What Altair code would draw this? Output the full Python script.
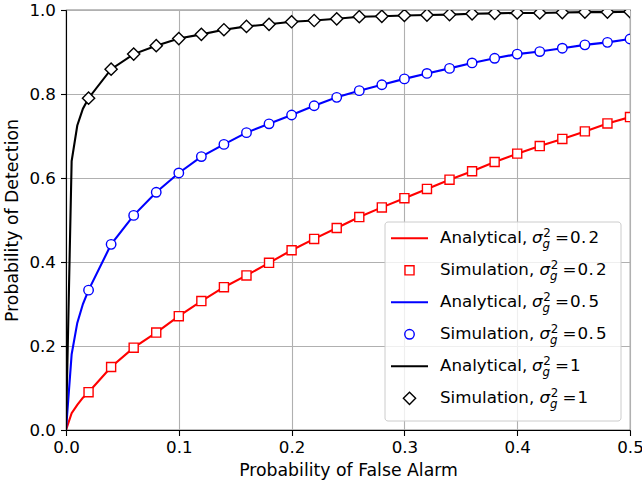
import altair as alt
import pandas as pd

# ---------------- data ----------------
fa_sim = [0.02, 0.04, 0.06, 0.08, 0.10, 0.12, 0.14, 0.16, 0.18, 0.20, 0.22, 0.24, 0.26,
          0.28, 0.30, 0.32, 0.34, 0.36, 0.38, 0.40, 0.42, 0.44, 0.46, 0.48, 0.50]
pd_02 = [0.090, 0.150, 0.196, 0.232, 0.271, 0.307, 0.340, 0.368, 0.398, 0.428, 0.455, 0.481, 0.507,
         0.530, 0.552, 0.574, 0.596, 0.616, 0.638, 0.658, 0.676, 0.693, 0.711, 0.730, 0.745]
pd_05 = [0.333, 0.442, 0.511, 0.566, 0.612, 0.651, 0.680, 0.708, 0.729, 0.750, 0.772, 0.792, 0.808,
         0.822, 0.836, 0.849, 0.861, 0.874, 0.885, 0.895, 0.901, 0.909, 0.917, 0.923, 0.931]
pd_1 = [0.790, 0.859, 0.895, 0.915, 0.932, 0.942, 0.953, 0.961, 0.966, 0.972, 0.975, 0.979, 0.984,
        0.985, 0.987, 0.988, 0.989, 0.991, 0.992, 0.993, 0.993, 0.994, 0.995, 0.995, 0.996]

# analytical curves: extra points near the origin, then the same grid
fa_head = [0.0, 0.005, 0.01, 0.015]
head_02 = [0.0, 0.040, 0.060, 0.077]
head_05 = [0.0, 0.180, 0.255, 0.300]
head_1 = [0.0, 0.640, 0.725, 0.765]

variances = ["0.2", "0.5", "1"]
colors = ["#ff0000", "#0000ff", "#000000"]
shapes = ["square", "circle", "diamond"]
x_ticks = [0.0, 0.1, 0.2, 0.3, 0.4, 0.5]
y_ticks = [0.0, 0.2, 0.4, 0.6, 0.8, 1.0]

FONT = "DejaVu Sans"
FS = 16.7
FS_TITLE = 17.3
FS_SMALL = 11.8

sim_series = [pd_02, pd_05, pd_1]
head_series = [head_02, head_05, head_1]
marker_size = {"square": 82, "circle": 90, "diamond": 150}

xs = alt.Scale(domain=[0, 0.5], nice=False, zero=False)
ys = alt.Scale(domain=[0, 1], nice=False, zero=False)
xenc = alt.X("fa:Q", scale=xs, title="Probability of False Alarm",
             axis=alt.Axis(values=x_ticks, format=".1f"))
yenc = alt.Y("pd:Q", scale=ys, title="Probability of Detection",
             axis=alt.Axis(values=y_ticks, format=".1f"))

layers = []
for v, col, shp, sim, head in zip(variances, colors, shapes, sim_series, head_series):
    ana_df = pd.DataFrame({"fa": fa_head + fa_sim, "pd": head + sim})
    sim_df = pd.DataFrame({"fa": fa_sim, "pd": sim})
    layers.append(
        alt.Chart(ana_df).mark_line(color=col, strokeWidth=2.1, clip=True)
        .encode(x=xenc, y=yenc, order="fa:Q")
    )
    layers.append(
        alt.Chart(sim_df).mark_point(shape=shp, size=marker_size[shp], filled=True, fill="white",
                                     stroke=col, strokeWidth=1.4, opacity=1, clip=True)
        .encode(x=xenc, y=yenc)
    )

# ---------------- manual legend (positions relative to the plot area) ----------------
OX, OY = 66, 10
one = alt.Data(values=[{"k": 1}])
leg = []
leg.append(
    alt.Chart(one).mark_rect(fill="white", fillOpacity=0.8, stroke="#cccccc",
                             strokeWidth=1, cornerRadius=3)
    .encode(x=alt.value(385 - OX), x2=alt.value(621 - OX),
            y=alt.value(222 - OY), y2=alt.value(421 - OY))
)


def txt(text, x, y, size=FS, style="normal"):
    return (alt.Chart(one).mark_text(text=text, font=FONT, fontSize=size, fontStyle=style,
                                     align="left", baseline="alphabetic", color="black")
            .encode(x=alt.value(x - OX), y=alt.value(y - OY)))


char_offsets = [38.0, 49.0, 56.6]  # slightly wider math-mode spacing of the value

row_y0 = 238.3
row_dy = 32.0
for i, (v, col, shp) in enumerate(zip(variances, colors, shapes)):
    for j, kind in enumerate(["Analytical,", "Simulation,"]):
        yc = row_y0 + row_dy * (2 * i + j)
        if j == 0:
            leg.append(
                alt.Chart(one).mark_rule(color=col, strokeWidth=2.1)
                .encode(x=alt.value(391 - OX), x2=alt.value(428 - OX), y=alt.value(yc - OY))
            )
            sx = 532.0
        else:
            leg.append(
                alt.Chart(one).mark_point(shape=shp, size=marker_size[shp], filled=True,
                                          fill="white", stroke=col, strokeWidth=1.4, opacity=1)
                .encode(x=alt.value(409.5 - OX), y=alt.value(yc - OY))
            )
            sx = 539.5
        base = yc + 5.0
        leg.append(txt(kind, 440.0, base))
        leg.append(txt("σ", sx, base, style="italic"))
        leg.append(txt("2", sx + 11.3, base - 6.6, size=FS_SMALL))
        leg.append(txt("g", sx + 10.6, base + 5.0, size=FS_SMALL, style="italic"))
        leg.append(txt("=", sx + 23.0, base))
        for ch, off in zip(v, char_offsets):
            leg.append(txt(ch, sx + off, base))

chart = alt.layer(*layers, *leg).properties(
    width=564, height=420,
    autosize=alt.AutoSizeParams(type="none"),
    padding={"left": OX, "top": OY, "right": 12, "bottom": 55},
).configure_view(
    stroke="black", strokeWidth=1.1
).configure_axis(
    grid=True, gridColor="#b0b0b0", gridWidth=1.1,
    domainColor="black", domainWidth=1.1,
    tickColor="black", tickSize=5.5, tickWidth=1.1,
    labelFont=FONT, labelFontSize=FS, labelColor="black",
    titleFont=FONT, titleFontSize=FS_TITLE, titleFontWeight="normal", titleColor="black",
).configure_axisX(
    labelPadding=3.5, titlePadding=6, labelFlush=False
).configure_axisY(
    labelPadding=5, titlePadding=7, labelFlush=False
)

chart.save("out.html", embed_options={"renderer": "svg", "actions": False})
